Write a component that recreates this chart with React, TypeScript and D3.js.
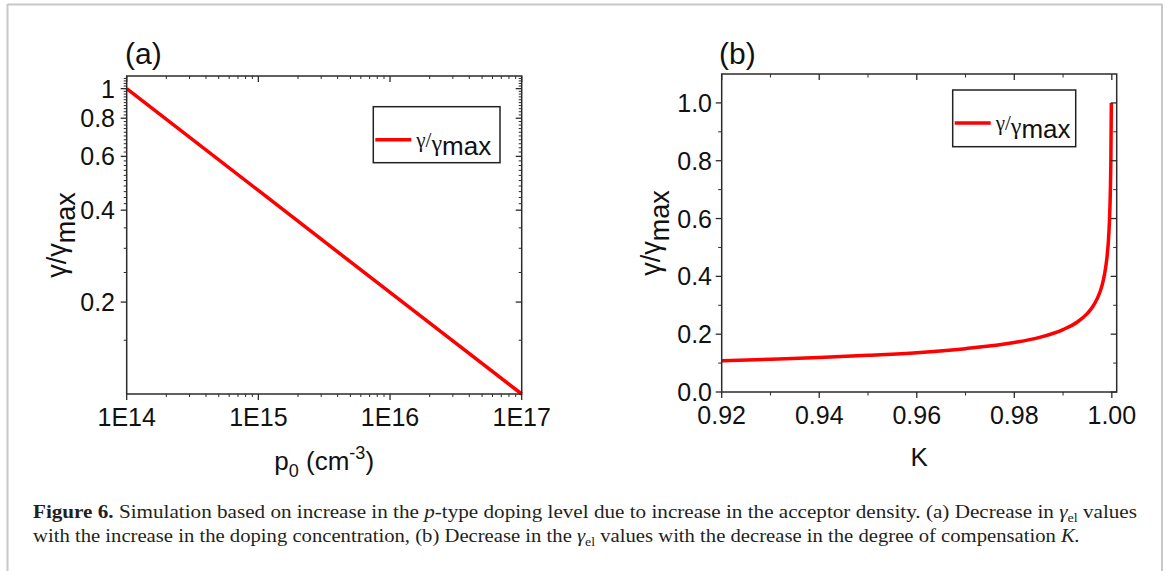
import * as d3 from 'd3';
import React from 'react';

// panel (a): doping density vs normalised gamma
const dopingLevels = [1e14, 1e15, 1e16, 1e17];
const gammaVsDoping = [1.0, 0.464, 0.215, 0.1];
const dopingTicks = [1e14, 1e15, 1e16, 1e17];
const dopingTickLabels = ['1E14', '1E15', '1E16', '1E17'];
const logYTicks = [0.2, 0.4, 0.6, 0.8, 1];
const logYTickLabels = ['0.2', '0.4', '0.6', '0.8', '1'];

// panel (b): compensation K vs normalised gamma
const compensation = [0.92, 0.93, 0.94, 0.95, 0.96, 0.97, 0.98, 0.985, 0.99, 0.993, 0.995, 0.996, 0.997, 0.998, 0.9985, 0.999, 0.9993, 0.9995, 0.9997, 0.9998, 0.9999];
const gammaVsK = [0.108, 0.113, 0.119, 0.127, 0.136, 0.15, 0.171, 0.188, 0.216, 0.243, 0.272, 0.293, 0.323, 0.369, 0.407, 0.465, 0.523, 0.586, 0.695, 0.794, 1.0];
const kTicks = [0.92, 0.94, 0.96, 0.98, 1.0];
const kTickLabels = ['0.92', '0.94', '0.96', '0.98', '1.00'];
const kMinorTicks = [0.93, 0.95, 0.97, 0.99];
const linYTicks = [0, 0.2, 0.4, 0.6, 0.8, 1.0];
const linYTickLabels = ['0.0', '0.2', '0.4', '0.6', '0.8', '1.0'];
const linYMinorTicks = [0.1, 0.3, 0.5, 0.7, 0.9];

const AX = '#2b2b2b';
const RED = '#ff0000';
const SANS = '"Liberation Sans", Arial, sans-serif';
const SERIF = '"Liberation Serif", "Times New Roman", serif';
const TICK_FS = 25;

function logMinor(): number[] {
  const out: number[] = [];
  for (let e = 14; e < 17; e++) for (let m = 2; m <= 9; m++) out.push(m * Math.pow(10, e));
  return out;
}

function logYMinor(): number[] {
  const out: number[] = [0.15, 0.25, 0.3, 0.35];
  for (let v = 0.42; v < 1.1; v += 0.02) {
    const r = Math.round(v * 100) / 100;
    if (![0.6, 0.8, 1].includes(r)) out.push(r);
  }
  return out;
}

function Legend({ x, y, w, h }: { x: number; y: number; w: number; h: number }) {
  return (
    <g>
      <rect x={x} y={y} width={w} height={h} fill="#fff" stroke="#222" strokeWidth={1.5} />
      <line x1={x + 2} x2={x + 38} y1={y + 33} y2={y + 33} stroke={RED} strokeWidth={3.5} />
      <text x={x + 43} y={y + 40} fill="#111">
        <tspan fontFamily={SERIF} fontSize={21}>γ/</tspan>
        <tspan fontFamily={SERIF} fontSize={24} dy={4}>γ</tspan>
        <tspan fontFamily={SANS} fontSize={26} dy={4}>max</tspan>
      </text>
    </g>
  );
}

function YTitle({ x, y }: { x: number; y: number }) {
  return (
    <text transform={`translate(${x},${y}) rotate(-90)`} textAnchor="middle" fill="#111" fontFamily={SANS}>
      <tspan fontSize={27}>γ/γ</tspan>
      <tspan fontSize={27} dy={9}>max</tspan>
    </text>
  );
}

function PanelA() {
  const L = 126.7, R = 521.7, T = 76, B = 394;
  const x = d3.scaleLog().domain([1e14, 1e17]).range([L, R]);
  const y = d3.scaleLog().domain([0.1, 1.1]).range([B, T]);
  const line = d3.line<number>().x((_, i) => x(dopingLevels[i])).y((d) => y(d));
  const xMinor = logMinor();
  const yMinor = logYMinor();
  return (
    <g>
      <path d={line(gammaVsDoping) || ''} fill="none" stroke={RED} strokeWidth={3.5} />
      <rect x={L} y={T} width={R - L} height={B - T} fill="none" stroke={AX} strokeWidth={1.5} />
      {dopingTicks.map((t) => (
        <g key={'xa' + t}>
          <line x1={x(t)} x2={x(t)} y1={B} y2={B + 6} stroke={AX} strokeWidth={1.3} />
          <line x1={x(t)} x2={x(t)} y1={T} y2={T + 6} stroke={AX} strokeWidth={1.3} />
        </g>
      ))}
      {xMinor.map((t) => (
        <g key={'xm' + t}>
          <line x1={x(t)} x2={x(t)} y1={B} y2={B + 3} stroke={AX} strokeWidth={1} />
          <line x1={x(t)} x2={x(t)} y1={T} y2={T + 3} stroke={AX} strokeWidth={1} />
        </g>
      ))}
      {logYTicks.map((t) => (
        <g key={'ya' + t}>
          <line x1={L - 6} x2={L} y1={y(t)} y2={y(t)} stroke={AX} strokeWidth={1.3} />
          <line x1={R - 6} x2={R} y1={y(t)} y2={y(t)} stroke={AX} strokeWidth={1.3} />
        </g>
      ))}
      {yMinor.map((t) => (
        <g key={'ym' + t}>
          <line x1={L - 3} x2={L} y1={y(t)} y2={y(t)} stroke={AX} strokeWidth={1} />
          <line x1={R - 3} x2={R} y1={y(t)} y2={y(t)} stroke={AX} strokeWidth={1} />
        </g>
      ))}
      {dopingTicks.map((t, i) => (
        <text key={'xl' + t} x={x(t)} y={426} textAnchor="middle" fontFamily={SANS} fontSize={TICK_FS} fill="#111">
          {dopingTickLabels[i]}
        </text>
      ))}
      {logYTicks.map((t, i) => (
        <text key={'yl' + t} x={115} y={y(t) + 9} textAnchor="end" fontFamily={SANS} fontSize={TICK_FS} fill="#111">
          {logYTickLabels[i]}
        </text>
      ))}
      <text x={(L + R) / 2} y={470} textAnchor="middle" fontFamily={SANS} fontSize={26} fill="#111">
        <tspan>p</tspan>
        <tspan fontSize={18} dy={7}>0</tspan>
        <tspan dy={-7}> (cm</tspan>
        <tspan fontSize={18} dy={-11}>-3</tspan>
        <tspan dy={11}>)</tspan>
      </text>
      <YTitle x={66} y={(T + B) / 2} />
      <text x={125} y={64} fontFamily={SANS} fontSize={30} fill="#111">(a)</text>
      <Legend x={373.3} y={106.7} w={126.7} h={56} />
    </g>
  );
}

function PanelB() {
  const L = 721.7, R = 1116.7, T = 74, B = 392;
  const x = d3.scaleLinear().domain([0.92, 1.001]).range([L, R]);
  const y = d3.scaleLinear().domain([0, 1.1]).range([B, T]);
  const line = d3
    .line<number>()
    .x((_, i) => x(compensation[i]))
    .y((d) => y(d))
    .curve(d3.curveMonotoneX);
  return (
    <g>
      <path d={line(gammaVsK) || ''} fill="none" stroke={RED} strokeWidth={3.5} />
      <rect x={L} y={T} width={R - L} height={B - T} fill="none" stroke={AX} strokeWidth={1.5} />
      {kTicks.map((t) => (
        <g key={'xb' + t}>
          <line x1={x(t)} x2={x(t)} y1={B} y2={B + 6} stroke={AX} strokeWidth={1.3} />
          <line x1={x(t)} x2={x(t)} y1={T} y2={T + 6} stroke={AX} strokeWidth={1.3} />
        </g>
      ))}
      {kMinorTicks.map((t) => (
        <g key={'xbm' + t}>
          <line x1={x(t)} x2={x(t)} y1={B} y2={B + 3.5} stroke={AX} strokeWidth={1} />
          <line x1={x(t)} x2={x(t)} y1={T} y2={T + 3.5} stroke={AX} strokeWidth={1} />
        </g>
      ))}
      {linYTicks.map((t) => (
        <g key={'yb' + t}>
          <line x1={L - 6} x2={L} y1={y(t)} y2={y(t)} stroke={AX} strokeWidth={1.3} />
          <line x1={R - 6} x2={R} y1={y(t)} y2={y(t)} stroke={AX} strokeWidth={1.3} />
        </g>
      ))}
      {linYMinorTicks.map((t) => (
        <g key={'ybm' + t}>
          <line x1={L - 3.5} x2={L} y1={y(t)} y2={y(t)} stroke={AX} strokeWidth={1} />
          <line x1={R - 3.5} x2={R} y1={y(t)} y2={y(t)} stroke={AX} strokeWidth={1} />
        </g>
      ))}
      {kTicks.map((t, i) => (
        <text key={'xbl' + t} x={x(t)} y={424} textAnchor="middle" fontFamily={SANS} fontSize={TICK_FS} fill="#111">
          {kTickLabels[i]}
        </text>
      ))}
      {linYTicks.map((t, i) => (
        <text key={'ybl' + t} x={712} y={y(t) + 9} textAnchor="end" fontFamily={SANS} fontSize={TICK_FS} fill="#111">
          {linYTickLabels[i]}
        </text>
      ))}
      <text x={(L + R) / 2} y={466} textAnchor="middle" fontFamily={SANS} fontSize={26} fill="#111">K</text>
      <YTitle x={660} y={(T + B) / 2} />
      <text x={719} y={64} fontFamily={SANS} fontSize={30} fill="#111">(b)</text>
      <Legend x={952.7} y={90} w={123} h={56.7} />
    </g>
  );
}

function Caption() {
  return (
    <g fontFamily={SERIF} fontSize={19.5} fill="#231f20">
      <text x={33} y={518} textLength={1104} lengthAdjust="spacingAndGlyphs">
        <tspan fontWeight="bold">Figure 6.</tspan>
        <tspan> Simulation based on increase in the </tspan>
        <tspan fontStyle="italic">p</tspan>
        <tspan>-type doping level due to increase in the acceptor density. (a) Decrease in </tspan>
        <tspan fontStyle="italic">γ</tspan>
        <tspan fontSize={13} dy={4}>el</tspan>
        <tspan dy={-4}> values</tspan>
      </text>
      <text x={33} y={542} textLength={1047} lengthAdjust="spacingAndGlyphs">
        <tspan>with the increase in the doping concentration, (b) Decrease in the </tspan>
        <tspan fontStyle="italic">γ</tspan>
        <tspan fontSize={13} dy={4}>el</tspan>
        <tspan dy={-4}> values with the decrease in the degree of compensation </tspan>
        <tspan fontStyle="italic">K.</tspan>
      </text>
    </g>
  );
}

export default function App() {
  return (
    <svg width={1170} height={571} style={{ position: 'absolute', left: 0, top: 0, background: '#fff' }}>
      <rect x={0} y={0} width={1170} height={571} fill="#fff" />
      <line x1={7.5} x2={7.5} y1={4} y2={571} stroke="#c8c8c8" strokeWidth={2} />
      <line x1={7.5} x2={1162} y1={4.5} y2={4.5} stroke="#c8c8c8" strokeWidth={2} />
      <line x1={1162} x2={1162} y1={4} y2={571} stroke="#c8c8c8" strokeWidth={2} />
      <PanelA />
      <PanelB />
      <Caption />
    </svg>
  );
}
